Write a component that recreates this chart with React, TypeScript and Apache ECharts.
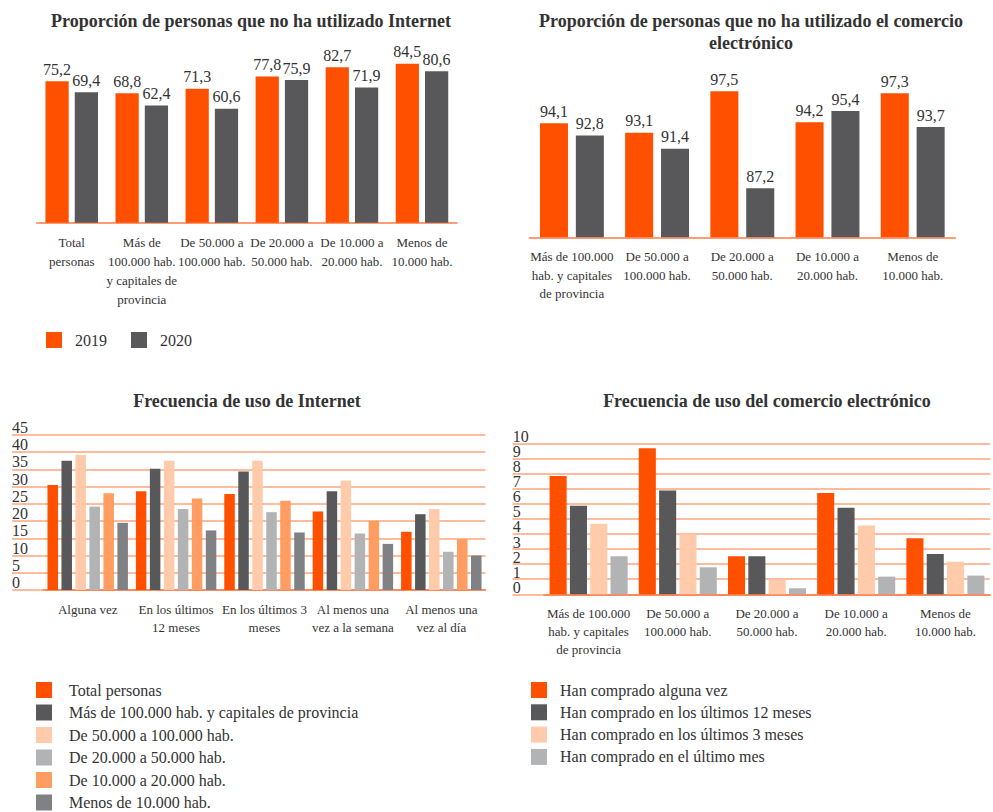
import React, { useEffect, useRef } from "react";
import * as echarts from "echarts";

const FONT = "Liberation Serif";
const TEXT = "#333333";
const GRID_LINE = "#FFA47A";
const BASE_LINE = "#FF7A45";

// Chart 1: Proporción de personas que no ha utilizado Internet
const catsNoInternet = [
  "Total\npersonas",
  "Más de\n100.000 hab.\ny capitales de\nprovincia",
  "De 50.000 a\n100.000 hab.",
  "De 20.000 a\n50.000 hab.",
  "De 10.000 a\n20.000 hab.",
  "Menos de\n10.000 hab.",
];
const noInternet2019 = [75.2, 68.8, 71.3, 77.8, 82.7, 84.5];
const noInternet2020 = [69.4, 62.4, 60.6, 75.9, 71.9, 80.6];

// Chart 2: Proporción de personas que no ha utilizado el comercio electrónico
const catsHab = [
  "Más de 100.000\nhab. y capitales\nde provincia",
  "De 50.000 a\n100.000 hab.",
  "De 20.000 a\n50.000 hab.",
  "De 10.000 a\n20.000 hab.",
  "Menos de\n10.000 hab.",
];
const noEcom2019 = [94.1, 93.1, 97.5, 94.2, 97.3];
const noEcom2020 = [92.8, 91.4, 87.2, 95.4, 93.7];

// Chart 3: Frecuencia de uso de Internet
const catsFreqInternet = [
  "Alguna vez",
  "En los últimos\n12 meses",
  "En los últimos 3\nmeses",
  "Al menos una\nvez a la semana",
  "Al menos una\nvez al día",
];
const freqNames = [
  "Total personas",
  "Más de 100.000 hab. y capitales de provincia",
  "De 50.000 a 100.000 hab.",
  "De 20.000 a 50.000 hab.",
  "De 10.000 a 20.000 hab.",
  "Menos de 10.000 hab.",
];
const freqTotal = [30.5, 28.7, 27.9, 22.8, 16.9];
const freqMas100 = [37.5, 35.2, 34.4, 28.7, 22.0];
const freq50a100 = [39.2, 37.5, 37.5, 31.8, 23.5];
const freq20a50 = [24.2, 23.5, 22.6, 16.4, 11.1];
const freq10a20 = [28.1, 26.6, 25.9, 20.1, 14.8];
const freqMenos10 = [19.5, 17.3, 16.7, 13.4, 10.0];
const freqTicksMax = 45;
const freqTicksStep = 5;

// Chart 4: Frecuencia de uso del comercio electrónico
const ecomNames = [
  "Han comprado alguna vez",
  "Han comprado en los últimos 12 meses",
  "Han comprado en los últimos 3 meses",
  "Han comprado en el último mes",
];
const ecomAlguna = [7.84, 9.67, 2.52, 6.71, 3.71];
const ecom12m = [5.87, 6.87, 2.52, 5.74, 2.67];
const ecom3m = [4.68, 4.0, 0.97, 4.55, 2.16];
const ecom1m = [2.52, 1.79, 0.4, 1.17, 1.24];
const ecomTicksMax = 10;
const ecomTicksStep = 1;

const C_ORANGE = "#FF5000";
const C_DARK = "#58585A";
const C_PEACH = "#FFCBAA";
const C_LGRAY = "#B2B3B5";
const C_MORANGE = "#FF9D63";
const C_MGRAY = "#808184";

const fmt = (p: any) => Number(p.value).toFixed(1).replace(".", ",");

export default function App() {
  const ref = useRef<HTMLDivElement>(null);

  useEffect(() => {
    document.body.style.margin = "0";
    if (!ref.current) return;
    const chart = echarts.init(ref.current, undefined, { renderer: "svg" });

    const catLabel = (lineHeight: number) => ({
      interval: 0,
      fontFamily: FONT,
      fontSize: 13,
      lineHeight,
      color: TEXT,
      margin: 10,
    });

    const valueLabel = {
      show: true,
      position: "top",
      distance: 4,
      formatter: fmt,
      fontFamily: FONT,
      fontSize: 16,
      color: TEXT,
    };

    const splitLine = { show: true, lineStyle: { color: GRID_LINE, width: 1.5 } };

    const richT = (bottomPad: number) => ({
      t: {
        fontFamily: FONT,
        fontSize: 16,
        lineHeight: 12,
        height: 12,
        color: TEXT,
        padding: [0, 0, bottomPad, 0],
      },
    });

    // Left-aligned tick labels sitting just above their grid line.
    const yLabelInside = (bottomPad: number, keep: (v: number) => boolean) => ({
      inside: true,
      margin: 0,
      verticalAlign: "bottom",
      formatter: (v: number) => (keep(v) ? `{t|${v}}` : ""),
      rich: richT(bottomPad),
      showMinLabel: true,
      showMaxLabel: true,
      hideOverlap: false,
    });

    const titleStyle = (text: string) => ({
      text,
      font: `bold 18px ${FONT}`,
      fontFamily: FONT,
      fontWeight: "bold",
      fontSize: 18,
      lineHeight: 22,
      fill: TEXT,
      align: "center",
      verticalAlign: "middle",
    });

    const isOdd = (v: number) => Math.round(v) % 2 === 1;
    const isEven = (v: number) => Math.round(v) % 2 === 0;

    const option: any = {
      animation: false,
      textStyle: { fontFamily: FONT },
      graphic: [
        { type: "text", x: 251, y: 21, style: titleStyle("Proporción de personas que no ha utilizado Internet") },
        {
          type: "text",
          x: 751,
          y: 32,
          style: titleStyle("Proporción de personas que no ha utilizado el comercio\nelectrónico"),
        },
        { type: "text", x: 247, y: 401, style: titleStyle("Frecuencia de uso de Internet") },
        { type: "text", x: 767, y: 401, style: titleStyle("Frecuencia de uso del comercio electrónico") },
      ],
      legend: [
        {
          data: ["2019", "2020"],
          left: 46,
          top: 332,
          orient: "horizontal",
          padding: 0,
          itemWidth: 16,
          itemHeight: 16,
          itemGap: 24,
          icon: "rect",
          textStyle: { fontFamily: FONT, fontSize: 16, color: TEXT, padding: [0, 0, 0, 8] },
        },
        {
          data: freqNames,
          left: 36,
          top: 682,
          orient: "vertical",
          padding: 0,
          itemWidth: 16,
          itemHeight: 16,
          itemGap: 6.5,
          icon: "rect",
          textStyle: { fontFamily: FONT, fontSize: 16, color: TEXT, padding: [0, 0, 0, 12] },
        },
        {
          data: ecomNames,
          left: 531,
          top: 682,
          orient: "vertical",
          padding: 0,
          itemWidth: 16,
          itemHeight: 16,
          itemGap: 6.3,
          icon: "rect",
          textStyle: { fontFamily: FONT, fontSize: 16, color: TEXT, padding: [0, 0, 0, 8] },
        },
      ],
      grid: [
        { left: 36.7, top: 34.7, width: 420.3, height: 188 },
        { left: 529.3, top: 67.7, width: 426, height: 169.6 },
        { left: 43.5, top: 435, width: 442, height: 155 },
        { left: 12, top: 435, width: 31.5, height: 155 },
        { left: 544, top: 443.3, width: 446, height: 151 },
        { left: 512.7, top: 443.3, width: 31.3, height: 151 },
      ],
      xAxis: [
        {
          gridIndex: 0,
          type: "category",
          data: catsNoInternet,
          axisTick: { show: false },
          axisLine: { lineStyle: { color: BASE_LINE, width: 1.5 } },
          axisLabel: catLabel(19),
        },
        {
          gridIndex: 1,
          type: "category",
          data: catsHab,
          axisTick: { show: false },
          axisLine: { lineStyle: { color: BASE_LINE, width: 1.5 } },
          axisLabel: catLabel(18.6),
        },
        {
          gridIndex: 2,
          type: "category",
          data: catsFreqInternet,
          axisTick: { show: false },
          axisLine: { lineStyle: { color: BASE_LINE, width: 1.5 } },
          axisLabel: catLabel(18),
        },
        { gridIndex: 3, type: "category", data: [""], show: false },
        {
          gridIndex: 4,
          type: "category",
          data: catsHab,
          axisTick: { show: false },
          axisLine: { lineStyle: { color: BASE_LINE, width: 1.5 } },
          axisLabel: catLabel(18),
        },
        { gridIndex: 5, type: "category", data: [""], show: false },
      ],
      yAxis: [
        { gridIndex: 0, type: "value", min: 0, max: 100, show: false },
        { gridIndex: 1, type: "value", min: 82, max: 100, show: false },
        {
          gridIndex: 2,
          type: "value",
          min: 0,
          max: freqTicksMax,
          interval: freqTicksStep,
          axisLabel: { show: false },
          axisLine: { show: false },
          axisTick: { show: false },
          splitLine,
        },
        {
          gridIndex: 3,
          type: "value",
          min: 0,
          max: freqTicksMax,
          interval: freqTicksStep,
          axisLabel: yLabelInside(3, () => true),
          axisLine: { show: false },
          axisTick: { show: false },
          splitLine,
        },
        {
          gridIndex: 4,
          type: "value",
          min: 0,
          max: ecomTicksMax,
          interval: ecomTicksStep,
          axisLabel: {
            show: true,
            align: "left",
            margin: 31.3,
            verticalAlign: "bottom",
            formatter: (v: number) => (isEven(v) ? `{t|${v}}` : ""),
            rich: richT(2),
            showMinLabel: true,
            showMaxLabel: true,
            hideOverlap: false,
          },
          axisLine: { show: false },
          axisTick: { show: false },
          splitLine,
        },
        {
          gridIndex: 5,
          type: "value",
          min: 0,
          max: ecomTicksMax,
          interval: ecomTicksStep,
          axisLabel: yLabelInside(2, isOdd),
          axisLine: { show: false },
          axisTick: { show: false },
          splitLine,
        },
      ],
      series: [
        {
          name: "2019",
          type: "bar",
          xAxisIndex: 0,
          yAxisIndex: 0,
          data: noInternet2019,
          itemStyle: { color: C_ORANGE },
          barCategoryGap: "25%",
          barGap: "26%",
          label: valueLabel,
        },
        {
          name: "2020",
          type: "bar",
          xAxisIndex: 0,
          yAxisIndex: 0,
          data: noInternet2020,
          itemStyle: { color: C_DARK },
          barCategoryGap: "25%",
          barGap: "26%",
          label: valueLabel,
        },
        {
          name: "2019",
          type: "bar",
          xAxisIndex: 1,
          yAxisIndex: 1,
          data: noEcom2019,
          itemStyle: { color: C_ORANGE },
          barCategoryGap: "25%",
          barGap: "28%",
          label: valueLabel,
        },
        {
          name: "2020",
          type: "bar",
          xAxisIndex: 1,
          yAxisIndex: 1,
          data: noEcom2020,
          itemStyle: { color: C_DARK },
          barCategoryGap: "25%",
          barGap: "28%",
          label: valueLabel,
        },
        ...[
          [freqTotal, C_ORANGE],
          [freqMas100, C_DARK],
          [freq50a100, C_PEACH],
          [freq20a50, C_LGRAY],
          [freq10a20, C_MORANGE],
          [freqMenos10, C_MGRAY],
        ].map(([d, c], i) => ({
          name: freqNames[i],
          type: "bar",
          xAxisIndex: 2,
          yAxisIndex: 2,
          data: d,
          itemStyle: { color: c },
          barCategoryGap: "9%",
          barGap: "33%",
        })),
        ...[
          [ecomAlguna, C_ORANGE],
          [ecom12m, C_DARK],
          [ecom3m, C_PEACH],
          [ecom1m, C_LGRAY],
        ].map(([d, c], i) => ({
          name: ecomNames[i],
          type: "bar",
          xAxisIndex: 4,
          yAxisIndex: 4,
          data: d,
          itemStyle: { color: c },
          barCategoryGap: "12.5%",
          barGap: "19%",
        })),
      ],
    };

    chart.setOption(option);
    return () => chart.dispose();
  }, []);

  return <div ref={ref} style={{ width: 993, height: 812 }} />;
}
